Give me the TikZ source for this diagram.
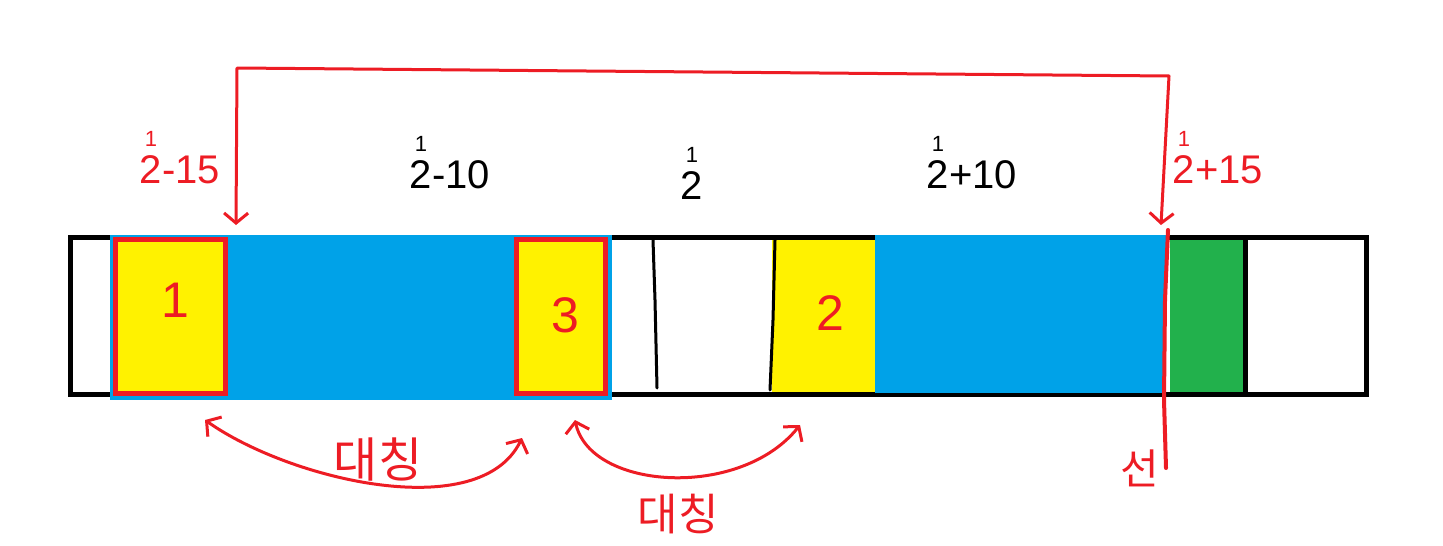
\documentclass[tikz,border=0pt]{standalone}
\usepackage{fontspec}
\setmainfont{Liberation Sans}
\newfontfamily\krfont{Noto Sans CJK KR}
\usetikzlibrary{arrows.meta, positioning}

\definecolor{pblue}{HTML}{00A2E8}
\definecolor{pyellow}{HTML}{FFF200}
\definecolor{pred}{HTML}{ED1C24}
\definecolor{pgreen}{HTML}{22B14C}

\newcommand{\half}{\shortstack{{\fontsize{22}{22}\selectfont 1}\\[6pt]2}}

\begin{document}
\begin{tikzpicture}[
  x=1pt, y=-1pt,
  frame/.style={draw, line width=5pt, minimum width=1296pt, minimum height=157pt, inner sep=0pt},
  fillbox/.style={inner sep=0pt, outer sep=0pt},
  marked/.style={fillbox, fill=pyellow, draw=pred, line width=4.5pt},
  val/.style={font=\fontsize{40}{44}\selectfont},
  num/.style={text=pred, font=\fontsize{50}{55}\selectfont},
  kor/.style={text=pred, font=\krfont\fontsize{48}{52}\selectfont},
  pen/.style={line width=3pt, line cap=round, line join=round},
  arrow/.style={pen, pred, {Straight Barb[length=10pt,width=24pt]}-{Straight Barb[length=10pt,width=24pt]}}
]
\useasboundingbox (0,0) rectangle (1443,546);

% the strip and its cells
\node[frame] (strip) at (718.5,316) {};
\node[fillbox, fill=pblue, minimum width=502pt, minimum height=165pt] (blueL) at (361,317.5) {};
\node[marked, minimum width=110pt, minimum height=154pt] (one) at (170.5,316.5) {};
\node[marked, minimum width=89pt, minimum height=154pt] (three) at (561,316.5) {};
\node[fillbox, fill=pyellow, minimum width=103pt, minimum height=152pt] (two) at (823.5,316) {};
\node[fillbox, fill=pblue, minimum width=291pt, minimum height=158pt] (blueR) at (1020.5,314) {};
\node[fillbox, fill=pgreen, minimum width=73pt, minimum height=152pt] (green) at (1206.5,316) {};
\draw[line width=5pt] ([xshift=2.5pt]green.east |- strip.north) -- ([xshift=2.5pt]green.east |- strip.south);

% hand drawn middle lines
\draw[pen] (653,240) -- (655,300) -- (657,388);
\draw[pen] (775,240) -- (773,320) -- (770,390);

\node[num] (d1) at (175,300) {1};
\node[num] (d3) at (565,315) {3};
\node[num] (d2) at (830,313) {2};

% labels above
\node[val, text=pred] (lblA) at (180,158) {\half-15};
\node[val] (lblB) at (450,163) {\half-10};
\node[val] (lblC) at (692,173) {\half};
\node[val] (lblD) at (972,163) {\half+10};
\node[val, text=pred] (lblE) at (1218,158) {\half+15};

% top bracket
\coordinate (tipL) at (236,225);
\coordinate (cornerL) at (237,68);
\coordinate (cornerR) at (1169,76);
\coordinate (tipR) at (1161,225);
\draw[arrow] (tipL) -- (cornerL) -- (cornerR) -- (tipR);

% cut line
\coordinate (cutTop) at (1168,230);
\coordinate (cutBot) at (1166,468);
\draw[pen, pred, line width=4pt] (cutTop) -- (1165,300) -- (1164,400) -- (cutBot);
\node[kor, font=\krfont\fontsize{42}{46}\selectfont] (cut) at (1140,468) {선};

% symmetry arrows
\coordinate (symA) at (205,420);
\coordinate (symB) at (522,438);
\coordinate (symC) at (575,420);
\coordinate (symD) at (800,425);
\draw[arrow] (symA) .. controls (290,480) and (480,525) .. (symB);
\draw[arrow] (symC) .. controls (590,490) and (740,500) .. (symD);
\node[kor] (symAB) at (378,460) {대칭};
\node[kor, font=\krfont\fontsize{44}{48}\selectfont] (symCD) at (678,514) {대칭};
\end{tikzpicture}
\end{document}
